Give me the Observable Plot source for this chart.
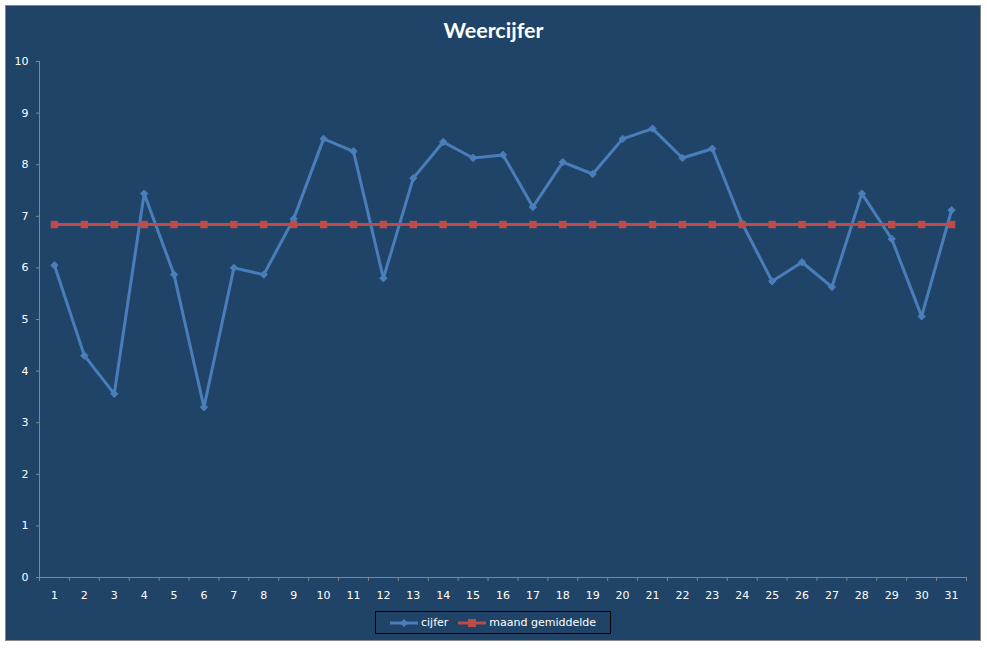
<!DOCTYPE html>
<html>
<head>
<meta charset="utf-8">
<script src="https://cdn.jsdelivr.net/npm/d3@7"></script>
<script src="https://cdn.jsdelivr.net/npm/@observablehq/plot@0.6"></script>
<style>
  html, body { margin: 0; padding: 0; background: #ffffff; }
  #wrap { position: relative; width: 987px; height: 648px; overflow: hidden; }
  #frame { position: absolute; left: 5px; top: 5px; width: 974px; height: 634px; background: #1f4468; border: 1px solid #868686; }
  #title { position: absolute; left: 0; top: 17px; width: 987px; text-align: center; color: #ffffff; font-family: Lato, "Open Sans", sans-serif; font-weight: bold; font-size: 21.5px; }
  #chart { position: absolute; left: 0; top: 0; }
  #legend { position: absolute; left: 375px; top: 611px; width: 234px; height: 21px; border: 1px solid #000000; display: flex; align-items: center; justify-content: center; gap: 10px; font-family: "DejaVu Sans", sans-serif; font-size: 11px; color: #ffffff; }
  .item { display: flex; align-items: center; gap: 3px; }
</style>
</head>
<body>
<div id="wrap">
  <div id="frame"></div>
  <div id="chart"></div>
  <div id="title">Weercijfer</div>
  <div id="legend">
    <div class="item"><svg width="28" height="10"><line x1="0" y1="5" x2="28" y2="5" stroke="#4a7ebb" stroke-width="3"/><path d="M14,1 L18,5 L14,9 L10,5 Z" fill="#4a7ebb"/></svg><span>cijfer</span></div>
    <div class="item"><svg width="28" height="10"><line x1="0" y1="5" x2="28" y2="5" stroke="#be4b48" stroke-width="3"/><rect x="10" y="1" width="8" height="8" fill="#be4b48"/></svg><span>maand gemiddelde</span></div>
  </div>
</div>
<script>
const days = [1,2,3,4,5,6,7,8,9,10,11,12,13,14,15,16,17,18,19,20,21,22,23,24,25,26,27,28,29,30,31];
const cijfer = [6.05,4.30,3.56,7.44,5.87,3.30,6.00,5.87,6.95,8.50,8.26,5.80,7.74,8.44,8.13,8.19,7.18,8.05,7.82,8.50,8.70,8.13,8.31,6.86,5.74,6.11,5.63,7.44,6.56,5.06,7.12];
const gemiddelde = [6.84,6.84,6.84,6.84,6.84,6.84,6.84,6.84,6.84,6.84,6.84,6.84,6.84,6.84,6.84,6.84,6.84,6.84,6.84,6.84,6.84,6.84,6.84,6.84,6.84,6.84,6.84,6.84,6.84,6.84,6.84];
const yTicks = [0,1,2,3,4,5,6,7,8,9,10];
const xBounds = [0.5,1.5,2.5,3.5,4.5,5.5,6.5,7.5,8.5,9.5,10.5,11.5,12.5,13.5,14.5,15.5,16.5,17.5,18.5,19.5,20.5,21.5,22.5,23.5,24.5,25.5,26.5,27.5,28.5,29.5,30.5,31.5];

const rowsC = days.map((d, i) => ({day: d, value: cijfer[i]}));
const rowsG = days.map((d, i) => ({day: d, value: gemiddelde[i]}));

const gray = "#868686";
const blue = "#4a7ebb";
const red = "#be4b48";

const chart = Plot.plot({
  width: 987,
  height: 648,
  marginLeft: 39,
  marginRight: 21,
  marginTop: 61,
  marginBottom: 71,
  style: {background: "transparent", color: "#ffffff", fontFamily: "DejaVu Sans, sans-serif", fontSize: "11px"},
  x: {type: "linear", domain: [0.5, 31.5]},
  y: {domain: [0, 10]},
  marks: [
    Plot.axisY({ticks: yTicks, tickSize: 3, tickPadding: 8, stroke: gray, fill: "#ffffff", label: null, tickFormat: d => String(d)}),
    Plot.axisX({ticks: xBounds, tickSize: 4, tickFormat: () => "", stroke: gray, label: null}),
    Plot.axisX({ticks: days, tickSize: 0, tickPadding: 14, fill: "#ffffff", label: null, tickFormat: d => String(d)}),
    Plot.ruleY([0], {stroke: gray}),
    Plot.ruleX([0.5], {stroke: gray}),
    Plot.line(rowsC, {x: "day", y: "value", stroke: blue, strokeWidth: 3}),
    Plot.dot(rowsC, {x: "day", y: "value", symbol: "diamond2", r: 3.3, fill: blue, stroke: blue, strokeWidth: 1}),
    Plot.line(rowsG, {x: "day", y: "value", stroke: red, strokeWidth: 3}),
    Plot.dot(rowsG, {x: "day", y: "value", symbol: "square", r: 4.2, fill: red, stroke: "none"})
  ]
});
document.getElementById("chart").appendChild(chart);
</script>
</body>
</html>
